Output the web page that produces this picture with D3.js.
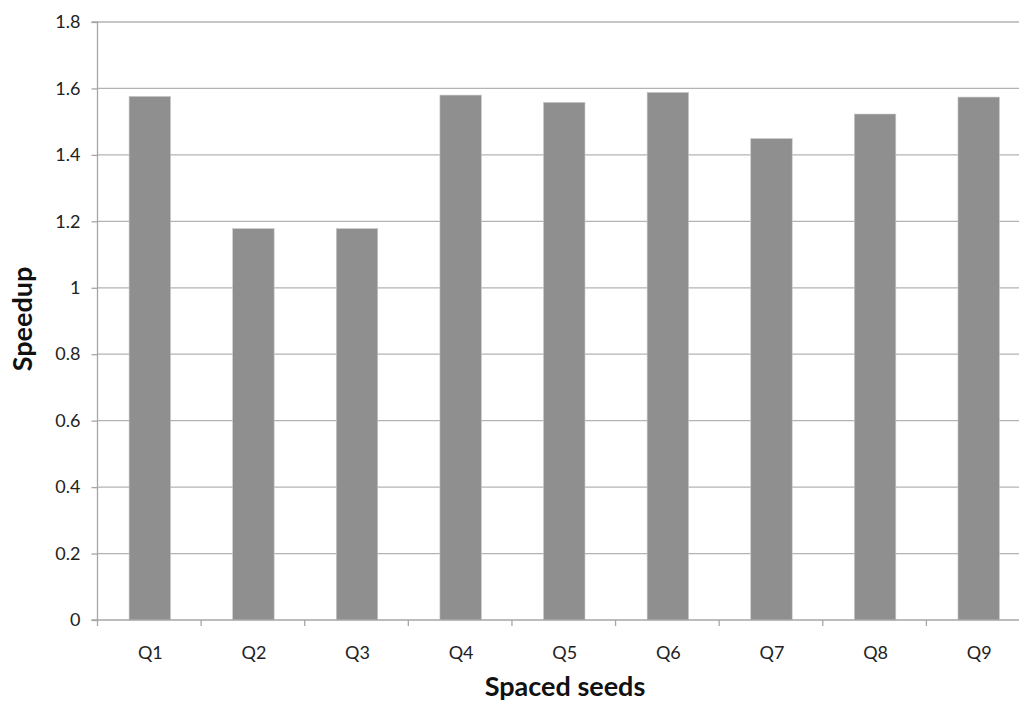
<!DOCTYPE html>
<html><head><meta charset="utf-8">
<script src="https://cdn.jsdelivr.net/npm/d3@7"></script>
<style>body{margin:0;background:#fff}svg{display:block}</style>
</head><body>
<svg id="c" width="1019" height="701"></svg>
<script>
const categories = ["Q1","Q2","Q3","Q4","Q5","Q6","Q7","Q8","Q9"];
const speedup = [1.576, 1.178, 1.178, 1.580, 1.558, 1.588, 1.449, 1.523, 1.574];
const yTicks = [0,0.2,0.4,0.6,0.8,1,1.2,1.4,1.6,1.8];

const svg = d3.select("#c");
const m = {l:97.5, r:1030, t:22, b:620};
const W = 1019;
const xb = d3.scaleBand().domain(categories).range([m.l, m.r]);
const y = d3.scaleLinear().domain([0,1.8]).range([m.b, m.t]);
const font = "Lato, 'Open Sans', sans-serif";
const barW = xb.bandwidth() * 0.4;

// gridlines
svg.append("g").selectAll("line").data(yTicks.filter(d=>d>0)).join("line")
  .attr("x1", m.l).attr("x2", W).attr("y1", d=>y(d)).attr("y2", d=>y(d))
  .attr("stroke", "#b3b3b3").attr("stroke-width", 1.3);

// bars
svg.append("g").selectAll("rect").data(categories).join("rect")
  .attr("x", d=>xb(d)+xb.bandwidth()/2-barW/2+0.5).attr("width", barW)
  .attr("y", (d,i)=>y(speedup[i])).attr("height", (d,i)=>y(0)-y(speedup[i]))
  .attr("fill", "#8f8f8f").attr("stroke", "#c8c8c8").attr("stroke-width", 0.6);

// y axis
const ya = d3.axisLeft(y).tickValues(yTicks).tickSize(6).tickPadding(11).tickFormat(d=>String(d));
const gy = svg.append("g").attr("transform", `translate(${m.l},0)`).call(ya);
gy.select(".domain").attr("stroke", "#a6a6a6").attr("stroke-width", 1.3).attr("d", `M-6,${m.t}H0V${m.b}`);
gy.selectAll(".tick line").attr("stroke", "#a6a6a6").attr("stroke-width", 1.3);
gy.selectAll("text").attr("font-family", font).attr("font-size", 18).attr("fill", "#222");

// x axis
const gx = svg.append("g").attr("transform", `translate(0,${m.b})`);
gx.append("line").attr("x1", m.l-6).attr("x2", W).attr("y1",0).attr("y2",0)
  .attr("stroke", "#a6a6a6").attr("stroke-width", 1.3);
gx.selectAll("line.t").data(categories).join("line").attr("class","t")
  .attr("x1", d=>xb(d)).attr("x2", d=>xb(d))
  .attr("y1", 0).attr("y2", 6).attr("stroke", "#a6a6a6").attr("stroke-width", 1.3);
gx.selectAll("text").data(categories).join("text")
  .attr("x", d=>xb(d)+xb.bandwidth()/2+1).attr("y", 39).attr("text-anchor","middle")
  .attr("font-family", font).attr("font-size", 18).attr("fill", "#222").text(d=>d);

// titles
svg.append("text").attr("x", 565).attr("y", 696).attr("text-anchor","middle")
  .attr("font-family", font).attr("font-weight","bold").attr("font-size", 27).attr("fill","#111").text("Spaced seeds");
svg.append("text").attr("transform","translate(32,319) rotate(-90)").attr("text-anchor","middle")
  .attr("font-family", font).attr("font-weight","bold").attr("font-size", 27).attr("fill","#111").text("Speedup");
</script>
</body></html>
